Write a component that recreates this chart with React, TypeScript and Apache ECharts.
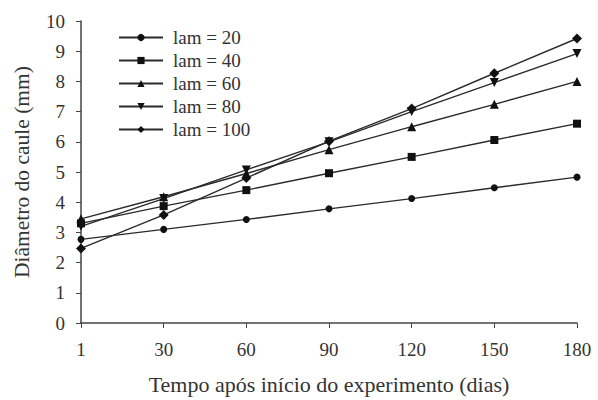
import React, { useEffect, useRef } from "react";
import * as echarts from "echarts";

const days = ["1", "30", "60", "90", "120", "150", "180"];
const lam20 = [2.77, 3.1, 3.43, 3.78, 4.12, 4.48, 4.83];
const lam40 = [3.3, 3.87, 4.4, 4.96, 5.5, 6.06, 6.6];
const lam60 = [3.45, 4.18, 4.95, 5.74, 6.5, 7.24, 8.0];
const lam80 = [3.2, 4.12, 5.07, 6.0, 7.0, 7.96, 8.92];
const lam100 = [2.47, 3.58, 4.8, 6.02, 7.1, 8.27, 9.42];

const FONT = "Liberation Serif";
const LINE = "#2b2b2b";

export default function App() {
  const ref = useRef<HTMLDivElement>(null);
  useEffect(() => {
    if (!ref.current) return;
    const chart = echarts.init(ref.current, undefined, { renderer: "svg" });
    const mk = (name: string, data: number[], symbol: string, size: number, rotate = 0) => ({
      name,
      type: "line",
      data,
      symbol,
      symbolSize: size,
      symbolRotate: rotate,
      showAllSymbol: true,
      lineStyle: { color: LINE, width: 1.4 },
      itemStyle: { color: "#111", borderWidth: 0 },
      emphasis: { disabled: true },
    });
    chart.setOption({
      animation: false,
      backgroundColor: "#fff",
      textStyle: { fontFamily: FONT },
      grid: { left: 81, right: 21, top: 21, bottom: 76, containLabel: false },
      legend: {
        orient: "vertical",
        left: 113,
        top: 23,
        itemWidth: 44,
        itemHeight: 9,
        itemGap: 4,
        textStyle: { fontFamily: FONT, fontSize: 19, color: "#333", lineHeight: 19, padding: [0, 0, 0, 5] },
        data: ["lam = 20", "lam = 40", "lam = 60", "lam = 80", "lam = 100"],
      },
      xAxis: {
        type: "category",
        data: days,
        boundaryGap: false,
        axisLine: { lineStyle: { color: "#444", width: 1.5 } },
        axisTick: { show: true, inside: false, length: 5, lineStyle: { color: "#444" } },
        axisLabel: { fontFamily: FONT, fontSize: 19, color: "#333", margin: 17 },
        name: "Tempo após início do experimento (dias)",
        nameLocation: "middle",
        nameGap: 50,
        nameTextStyle: { fontFamily: FONT, fontSize: 22, color: "#333" },
        splitLine: { show: false },
      },
      yAxis: {
        type: "value",
        min: 0,
        max: 10,
        interval: 1,
        axisLine: { show: true, lineStyle: { color: "#444", width: 1.5 } },
        axisTick: { show: true, inside: false, length: 5, lineStyle: { color: "#444" } },
        axisLabel: { fontFamily: FONT, fontSize: 19, color: "#333", margin: 16 },
        name: "Diâmetro do caule (mm)",
        nameLocation: "middle",
        nameGap: 48,
        nameTextStyle: { fontFamily: FONT, fontSize: 21.5, color: "#333" },
        splitLine: { show: false },
      },
      series: [
        mk("lam = 20", lam20, "circle", 7),
        mk("lam = 40", lam40, "rect", 8),
        mk("lam = 60", lam60, "triangle", 9),
        mk("lam = 80", lam80, "triangle", 9, 180),
        mk("lam = 100", lam100, "diamond", 10),
      ],
    });
    return () => chart.dispose();
  }, []);
  return <div ref={ref} style={{ width: 598, height: 400, position: "absolute", left: 0, top: 0 }} />;
}
